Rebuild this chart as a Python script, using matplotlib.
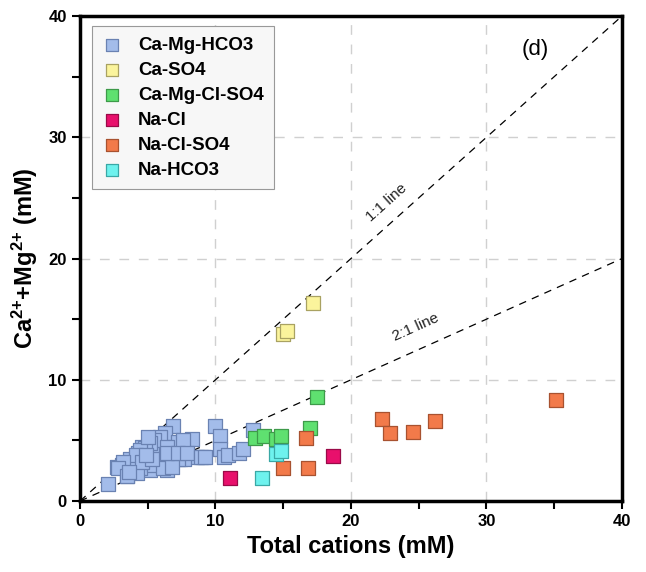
import matplotlib
matplotlib.use("Agg")
import matplotlib.pyplot as plt
from matplotlib.ticker import MultipleLocator

plt.rcParams['font.family'] = ['Liberation Sans', 'DejaVu Sans']
plt.rcParams['mathtext.fontset'] = 'custom'
plt.rcParams['mathtext.rm'] = 'Liberation Sans:bold'
plt.rcParams['mathtext.bf'] = 'Liberation Sans:bold'
plt.rcParams['mathtext.it'] = 'Liberation Sans:bold'

categories = ["Ca-Mg-HCO3", "Ca-SO4", "Ca-Mg-Cl-SO4", "Na-Cl", "Na-Cl-SO4", "Na-HCO3"]

camg_hco3_x = [2.1, 3.5, 6.9, 8.3, 8.6, 9.1, 10.0, 10.3, 10.3, 10.6, 10.9, 11.7, 12.0, 12.8,
               5.2, 4.4, 6.3, 7.2, 5.7, 5.3, 6.6, 7.4, 6.1, 3.1, 2.7, 3.7, 4.6, 4.3, 4.8, 5.5,
               6.4, 7.7, 5.9, 5.5, 5.2, 7.6, 6.4, 4.8, 4.4, 4.1, 3.2, 2.8, 6.1, 7.2, 6.8, 4.2,
               3.5, 4.6, 5.3, 4.9, 6.4, 7.2, 7.9, 5.0, 3.6, 8.9, 9.2]
camg_hco3_y = [1.4, 2.1, 6.2, 5.1, 3.6, 3.6, 6.2, 5.4, 4.3, 3.6, 3.8, 4.0, 4.3, 5.9,
               2.6, 2.7, 5.6, 4.9, 5.0, 4.2, 3.2, 3.5, 3.4, 3.0, 2.8, 3.5, 4.5, 4.0, 3.5, 3.0,
               2.6, 3.5, 5.3, 5.0, 4.8, 5.0, 4.5, 4.4, 4.2, 3.8, 3.2, 2.7, 2.7, 3.5, 2.8, 2.3,
               2.1, 3.2, 3.5, 3.8, 4.0, 4.0, 4.0, 5.3, 2.4, 3.6, 3.6]

caso4_x = [15.0, 15.3, 17.2]
caso4_y = [13.8, 14.0, 16.3]

camgclso4_x = [17.5, 17.0, 12.9, 13.6, 14.5, 14.8]
camgclso4_y = [8.6, 6.0, 5.2, 5.4, 5.1, 5.4]

nacl_x = [18.7, 11.1]
nacl_y = [3.7, 1.9]

naclso4_x = [16.7, 15.0, 16.8, 22.3, 22.9, 24.6, 26.2, 35.1]
naclso4_y = [5.2, 2.7, 2.7, 6.8, 5.6, 5.7, 6.6, 8.3]

nahco3_x = [14.5, 14.8, 13.4]
nahco3_y = [3.9, 4.1, 1.9]

series_x = [camg_hco3_x, caso4_x, camgclso4_x, nacl_x, naclso4_x, nahco3_x]
series_y = [camg_hco3_y, caso4_y, camgclso4_y, nacl_y, naclso4_y, nahco3_y]
face = ["#a3bcea", "#fbf49c", "#5fe070", "#e8106c", "#f27a4a", "#6ef2ee"]
edge = ["#6a82b2", "#a9a262", "#3e9a4a", "#9a0a48", "#a85230", "#3aa8a6"]

fig = plt.figure(figsize=(6.46, 5.72), dpi=100)
ax = fig.add_axes([0.1238, 0.124, 0.839, 0.848])

for xs, ys, fc, ec, lab in zip(series_x, series_y, face, edge, categories):
    ax.scatter(xs, ys, s=115, marker='s', facecolor=fc, edgecolor=ec,
               linewidth=0.9, label=lab, zorder=3)

ax.plot([0, 40], [0, 40], ls=(0, (6, 5)), color='black', lw=0.9, zorder=2)
ax.plot([0, 40], [0, 20], ls=(0, (6, 5)), color='black', lw=0.9, zorder=2)
ax.text(22.6, 24.6, "1:1 line", rotation=41.8, fontsize=11, ha='center', va='center', color='#222222')
ax.text(24.8, 14.3, "2:1 line", rotation=24.1, fontsize=11, ha='center', va='center', color='#222222')
ax.text(33.6, 37.2, "(d)", fontsize=16, ha='center', va='center')

ax.set_xlim(0, 40)
ax.set_ylim(0, 40)
ax.xaxis.set_major_locator(MultipleLocator(10))
ax.yaxis.set_major_locator(MultipleLocator(10))
ax.xaxis.set_minor_locator(MultipleLocator(5))
ax.yaxis.set_minor_locator(MultipleLocator(5))
ax.grid(True, which='major', ls=(0, (7, 7)), color='#d0d0d0', lw=1.0, zorder=0)
ax.tick_params(which='both', direction='out', length=6, width=1.5, labelsize=12)
for lab in ax.get_xticklabels() + ax.get_yticklabels():
    lab.set_fontweight('bold')
for sp in ax.spines.values():
    sp.set_linewidth(2.5)

ax.set_xlabel("Total cations (mM)", fontsize=17, fontweight='bold', labelpad=4)
ax.set_ylabel(r"Ca$^{\mathbf{2{+}}}$+Mg$^{\mathbf{2{+}}}$ (mM)", fontsize=17, fontweight='bold', labelpad=6)

leg = ax.legend(loc='upper left', bbox_to_anchor=(0.012, 0.99), prop={'weight': 'bold', 'size': 13.5},
                frameon=True, fancybox=False, edgecolor='#999999', facecolor='#f7f7f7',
                framealpha=1, handletextpad=0.9, borderpad=0.55, labelspacing=0.42,
                handlelength=1.0, markerscale=0.8, borderaxespad=0.3)
leg.get_frame().set_linewidth(0.8)

fig.savefig("out.png", dpi=100)
